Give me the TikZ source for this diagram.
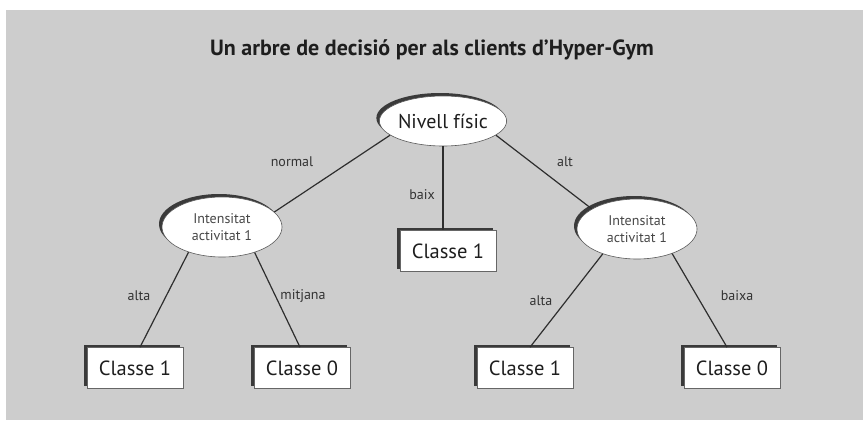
\documentclass[tikz,border=0pt]{standalone}
\usepackage{fontspec}
\setmainfont{PT Sans}
\usetikzlibrary{shapes.geometric,shadows}
\definecolor{panel}{HTML}{CDCDCD}
\definecolor{ink}{HTML}{1E1E1E}
\definecolor{wire}{HTML}{2E2E2E}
\definecolor{shade}{HTML}{3A3A3A}
\begin{document}
\begin{tikzpicture}[x=1pt,y=-1pt,
  raised/.style={drop shadow={shadow xshift=-3pt,shadow yshift=3pt,fill=shade,opacity=1}},
  test/.style={ellipse,draw=black!65,line width=0.6pt,fill=white,raised,inner sep=0pt,text=ink},
  rootnode/.style={test,minimum width=118pt,minimum height=50pt,font=\fontsize{20}{22}\selectfont},
  subnode/.style={test,minimum width=120pt,minimum height=60pt,align=center,
    font=\fontsize{14}{17}\selectfont,text=black!72},
  leaf/.style={rectangle,draw=black!60,line width=0.6pt,fill=white,raised,
    minimum width=96pt,minimum height=41pt,inner sep=0pt,font=\fontsize{20.5}{22}\selectfont,text=ink},
  branch/.style={draw=wire,line width=1.2pt},
  lbl/.style={font=\fontsize{14}{16}\selectfont,text=black!80,inner sep=0pt}
]
\useasboundingbox (0,0) rectangle (863,421);
\fill[panel] (6,10) rectangle (863,420);

\node[font=\bfseries\fontsize{22}{25}\selectfont,text=ink] (title) at (432,50)
  {Un arbre de decisió per als clients d'Hyper-Gym};

\coordinate (rootc) at (443,121);
\coordinate (lc) at (222,227);
\coordinate (rc) at (637,229);

% tree nodes
\node[rootnode] (root) at (rootc) {Nivell físic};
\node[subnode] (left) at (lc) {Intensitat\\activitat 1};
\node[subnode] (right) at (rc) {Intensitat\\activitat 1};
\node[leaf] (mid) at (448,251) {Classe 1};
\node[leaf] (b1) at (135,368) {Classe 1};
\node[leaf] (b2) at (302,368) {Classe 0};
\node[leaf] (b3) at (525,368) {Classe 1};
\node[leaf] (b4) at (732,368) {Classe 0};

% branches
\draw[branch] (root.195) -- (left.16);
\draw[branch] (root.south) -- (root.south |- mid.north);
\draw[branch] (root.345) -- (right.156);
\draw[branch] (left.217) -- ([xshift=5pt]b1.north);
\draw[branch] (left.322) -- ([xshift=-2pt]b2.north);
\draw[branch] (right.216) -- ([xshift=5pt]b3.north);
\draw[branch] (right.325) -- ([xshift=-5pt]b4.north);

% branch labels
\node[lbl] (lnormal) at (292,162) {normal};
\node[lbl] (lbaix) at (422,195) {baix};
\node[lbl] (lalt) at (565,162) {alt};
\node[lbl] (lalta1) at (139,296) {alta};
\node[lbl] (lmitjana) at (303,296) {mitjana};
\node[lbl] (lalta2) at (541,301) {alta};
\node[lbl] (lbaixa) at (737,296) {baixa};
\end{tikzpicture}
\end{document}
